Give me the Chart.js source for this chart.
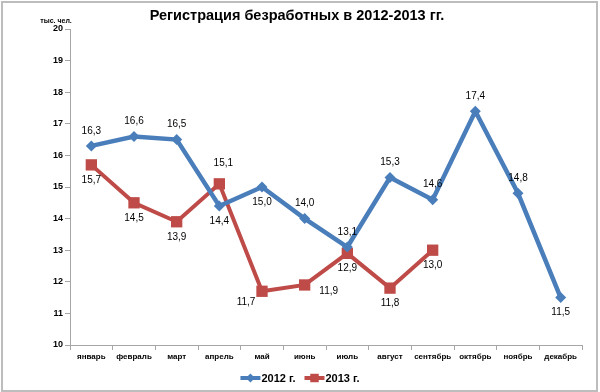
<!DOCTYPE html>
<html>
<head>
<meta charset="utf-8">
<script src="https://cdn.jsdelivr.net/npm/chart.js@4/dist/chart.umd.min.js"></script>
<style>
  body { margin: 0; background: #fff; }
</style>
</head>
<body>
<canvas id="myChart" width="600" height="392"></canvas>
<script>
const months = ["январь", "февраль", "март", "апрель", "май", "июнь", "июль", "август", "сентябрь", "октябрь", "ноябрь", "декабрь"];
const values2012 = [16.3, 16.6, 16.5, 14.4, 15.0, 14.0, 13.1, 15.3, 14.6, 17.4, 14.8, 11.5];
const values2013 = [15.7, 14.5, 13.9, 15.1, 11.7, 11.9, 12.9, 11.8, 13.0];
const yTicks = [10, 11, 12, 13, 14, 15, 16, 17, 18, 19, 20];

// where each value label sits relative to its point
const place2012 = ["t", "t", "t", "b", "b", "t", "t", "t", "t", "t", "t", "b"];
const place2013 = ["b", "b", "b", "tt", "bl", "r", "b", "b", "b"];

const blue = "#4A7EBB";
const red = "#BE4B48";
const font = "Arial, 'Liberation Sans', sans-serif";
const titleText = "Регистрация безработных в 2012-2013 гг.";

const offsets = {
  t: [0, -15],
  tt: [4, -21],
  b: [0, 15],
  bl: [-16, 11],
  r: [24, 6],
};

const extras = {
  id: "extras",
  beforeDraw(chart) {
    const ctx = chart.ctx;
    ctx.save();
    ctx.fillStyle = "#fff";
    ctx.fillRect(0, 0, chart.width, chart.height);
    ctx.strokeStyle = "#bdbdbd";
    ctx.lineWidth = 2;
    ctx.strokeRect(2, 2, chart.width - 5, chart.height - 3);
    ctx.restore();
  },
  afterDraw(chart) {
    const ctx = chart.ctx;
    ctx.save();
    // title
    ctx.font = "bold 14.5px " + font;
    ctx.fillStyle = "#000";
    ctx.textAlign = "center";
    ctx.textBaseline = "middle";
    ctx.fillText(titleText, 297, 16);

    // unit label
    ctx.font = "bold 7px " + font;
    ctx.fillText("тыс. чел.", 56, 21);

    // value labels
    ctx.font = "10px " + font;
    const places = [place2012, place2013];
    chart.data.datasets.forEach((ds, i) => {
      const meta = chart.getDatasetMeta(i);
      meta.data.forEach((pt, j) => {
        const o = offsets[places[i][j]];
        ctx.fillText(ds.data[j].toFixed(1).replace(".", ","), pt.x + o[0], pt.y + o[1]);
      });
    });

    // legend
    ctx.font = "bold 11px " + font;
    ctx.textAlign = "left";
    const lineLen = 20;
    const items = chart.data.datasets.map((ds) => ({ ds, w: ctx.measureText(ds.label).width }));
    const gap = 9;
    const total = items.reduce((s, it) => s + lineLen + 1 + it.w, 0) + gap * (items.length - 1);
    let x = (chart.width - total) / 2;
    const y = 378;
    items.forEach((it) => {
      ctx.strokeStyle = it.ds.borderColor;
      ctx.lineWidth = 4;
      ctx.beginPath();
      ctx.moveTo(x, y);
      ctx.lineTo(x + lineLen, y);
      ctx.stroke();
      ctx.fillStyle = it.ds.borderColor;
      Chart.helpers.drawPoint(ctx, { pointStyle: it.ds.pointStyle, radius: it.ds.pointStyle === "rect" ? 6 : 4.5, borderWidth: 0 }, x + lineLen / 2, y);
      ctx.fillStyle = "#000";
      ctx.fillText(it.ds.label, x + lineLen + 1, y + 1);
      x += lineLen + 1 + it.w + gap;
    });
    ctx.restore();
  },
};

const config = {
  type: "line",
  data: {
    labels: months,
    datasets: [
      {
        label: "2012 г.",
        data: values2012,
        borderColor: blue,
        backgroundColor: blue,
        borderWidth: 4.5,
        pointStyle: "rectRot",
        pointRadius: 5.5,
        pointBorderWidth: 0,
        tension: 0,
      },
      {
        label: "2013 г.",
        data: values2013,
        borderColor: red,
        backgroundColor: red,
        borderWidth: 4,
        pointStyle: "rect",
        pointRadius: 8,
        pointBorderWidth: 0,
        tension: 0,
      },
    ],
  },
  options: {
    responsive: false,
    animation: false,
    layout: { padding: { left: 0, right: 18, top: 29, bottom: 30 } },
    plugins: {
      legend: { display: false },
      tooltip: { enabled: false },
      title: { display: false },
    },
    scales: {
      x: {
        offset: true,
        grid: { offset: true, drawOnChartArea: false, tickLength: 5, color: "#a6a6a6" },
        border: { color: "#a6a6a6" },
        ticks: { color: "#000", font: { family: font, size: 8, weight: "bold" }, padding: 2, maxRotation: 0, autoSkip: false },
        afterFit(axis) { axis.height = 17; },
      },
      y: {
        min: 10,
        max: 20,
        afterBuildTicks(axis) { axis.ticks = yTicks.map((v) => ({ value: v })); },
        grid: { drawOnChartArea: false, tickLength: 5, color: "#a6a6a6" },
        border: { color: "#a6a6a6" },
        ticks: { color: "#000", font: { family: font, size: 9, weight: "bold" }, padding: 2 },
        afterFit(axis) { axis.width = 70; },
      },
    },
  },
  plugins: [extras],
};

const myChart = new Chart(document.getElementById("myChart"), config);
</script>
</body>
</html>
